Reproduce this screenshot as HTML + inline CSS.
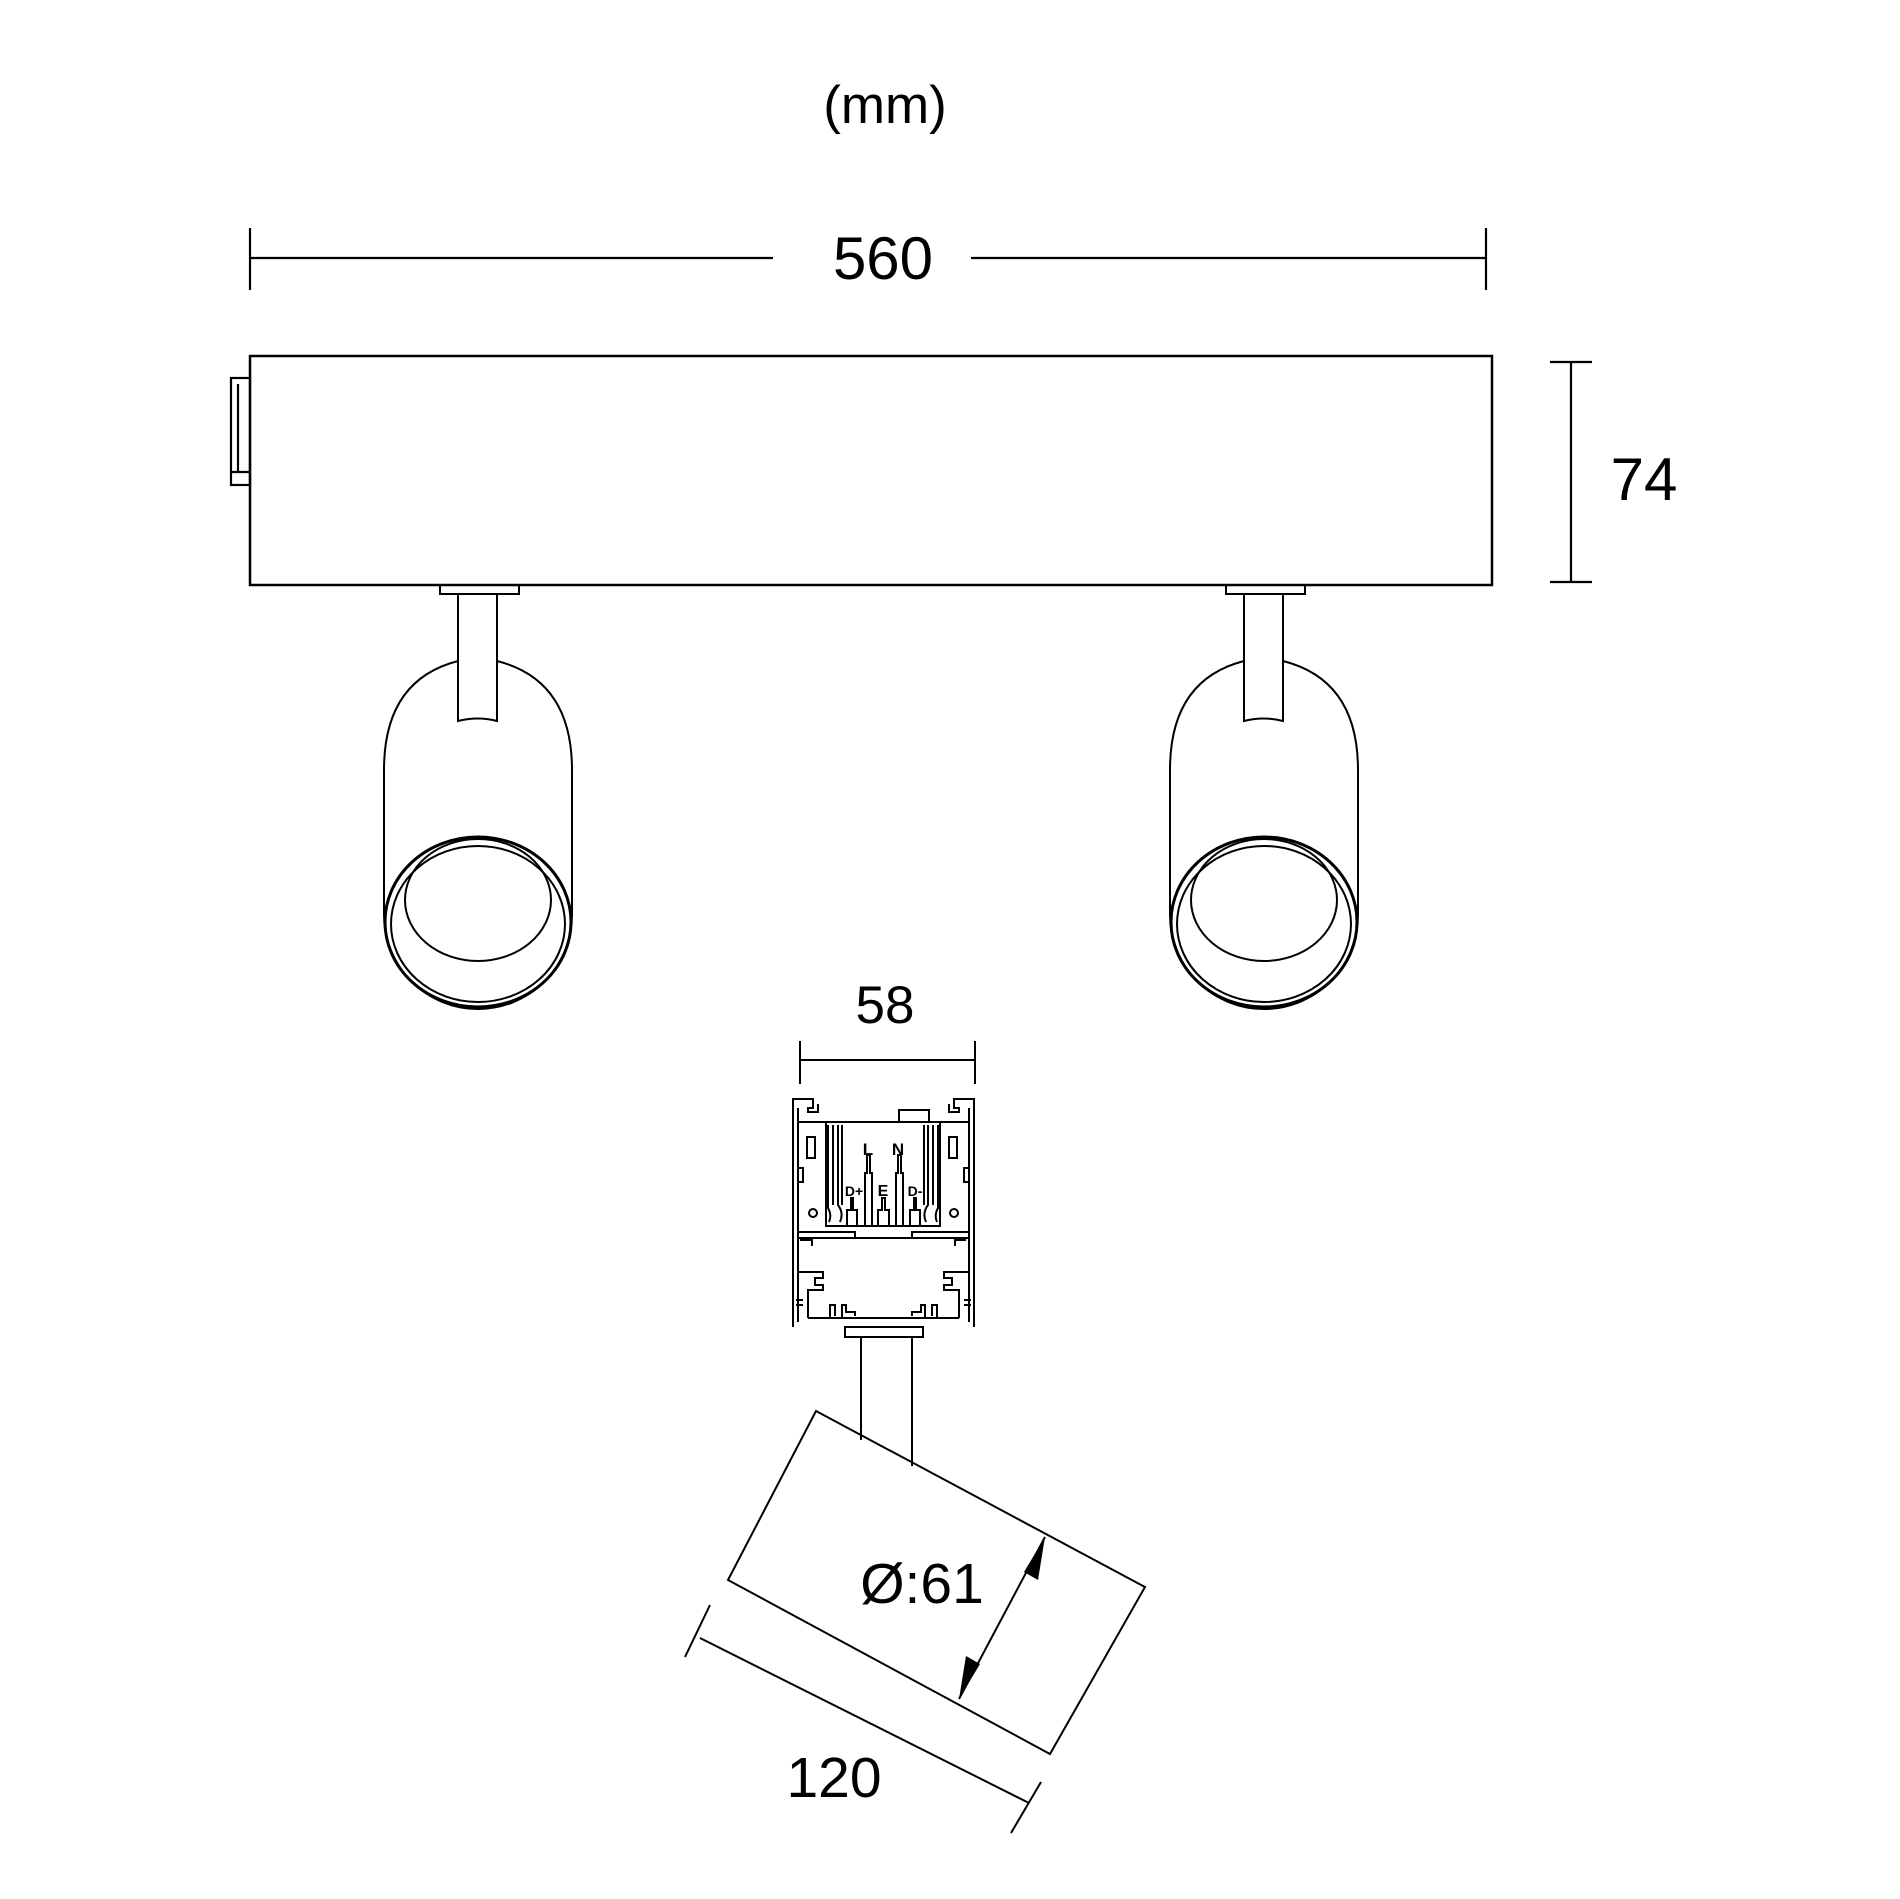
<!DOCTYPE html>
<html><head><meta charset="utf-8"><style>
html,body{margin:0;padding:0;background:#fff;}
svg{display:block;}
text{font-family:"Liberation Sans",sans-serif;fill:#000;}
</style></head><body>
<svg width="1900" height="1899" viewBox="0 0 1900 1899" xmlns="http://www.w3.org/2000/svg">
<g fill="none" stroke="#000" stroke-width="2.2">
<line x1="250" y1="258" x2="773" y2="258"/>
<line x1="971" y1="258" x2="1486" y2="258"/>
<line x1="250" y1="228" x2="250" y2="290"/>
<line x1="1486" y1="228" x2="1486" y2="290"/>
<rect x="250" y="356" width="1242" height="229" stroke-width="2.5"/>
<rect x="231" y="378" width="19" height="107"/>
<line x1="238" y1="384" x2="238" y2="472"/>
<line x1="231" y1="472" x2="250" y2="472"/>
<line x1="1571" y1="362" x2="1571" y2="582"/>
<line x1="1550" y1="362" x2="1592" y2="362"/>
<line x1="1550" y1="582" x2="1592" y2="582"/>
</g>
<g id="sp" fill="none" stroke="#000" stroke-width="2">
<rect x="440" y="585" width="79" height="9"/>
<path d="M458 594 V721 Q478 716 497 721 V594"/>
<path d="M458 661 Q384 680 384 770 V915 A94 94 0 0 0 572 915 V770 Q572 680 497 661"/>
<ellipse cx="478" cy="922" rx="93" ry="85" stroke-width="3"/>
<ellipse cx="478" cy="924" rx="87" ry="78"/>
<ellipse cx="478" cy="900" rx="73" ry="61"/>
</g>
<use href="#sp" transform="translate(786,0)"/>
<g fill="none" stroke="#000" stroke-width="2">
<line x1="800" y1="1060" x2="975" y2="1060"/>
<line x1="800" y1="1041" x2="800" y2="1084"/>
<line x1="975" y1="1041" x2="975" y2="1084"/>
<path d="M793 1327 V1099 H813 V1108 H808 V1112 H818 V1104"/>
<path d="M974 1327 V1099 H954 V1108 H959 V1112 H949 V1104"/>
<line x1="798" y1="1108" x2="798" y2="1322"/>
<line x1="969" y1="1108" x2="969" y2="1322"/>
<line x1="798" y1="1122" x2="969" y2="1122"/>
<rect x="899" y="1110" width="30" height="12"/>
<rect x="826" y="1122" width="114" height="104"/>
<rect x="807" y="1137" width="8" height="21"/>
<rect x="949" y="1137" width="8" height="21"/>
<rect x="798" y="1168" width="5" height="14"/>
<rect x="964" y="1168" width="5" height="14"/>
<circle cx="813" cy="1213" r="4"/>
<circle cx="954" cy="1213" r="4"/>
<path d="M828 1125 V1208 Q832 1215 829 1222 M833 1125 V1205 M838 1125 V1205 Q844 1213 840 1222 M842 1125 V1205"/>
<path d="M938 1125 V1208 Q934 1215 937 1222 M933 1125 V1205 M928 1125 V1205 Q922 1213 926 1222 M924 1125 V1205"/>
<path d="M865 1226 V1173 H867 V1155 H870 V1173 H872 V1226"/>
<path d="M896 1226 V1173 H898 V1155 H901 V1173 H903 V1226"/>
<path d="M847 1226 V1210 H851 V1198 H853 V1210 H857 V1226"/>
<path d="M878 1226 V1210 H882 V1198 H885 V1210 H889 V1226"/>
<path d="M910 1226 V1210 H914 V1198 H916 V1210 H920 V1226"/>
<path d="M798 1232 H855 V1238 H912 V1232 H969"/>
<line x1="798" y1="1238" x2="969" y2="1238"/>
<path d="M800 1240 H812 V1246 M966 1240 H955 V1246"/>
<path d="M798 1272 H823 V1278 H815 V1285 H823 V1290 H808 V1318"/>
<path d="M969 1272 H944 V1278 H952 V1285 H944 V1290 H959 V1318"/>
<path d="M808 1318 H959"/>
<path d="M830 1318 V1305 H835 V1316 M842 1318 V1305 H846 V1312 H855 V1316"/>
<path d="M937 1318 V1305 H932 V1316 M925 1318 V1305 H921 V1312 H912 V1316"/>
<path d="M796 1300 H803 M796 1305 H803 M964 1300 H971 M964 1305 H971"/>
<rect x="845" y="1327" width="78" height="10"/>
<path d="M861 1337 V1440 M912 1337 V1466"/>
<polygon points="816,1411 1145,1587 1050,1754 728,1580"/>
<line x1="1045" y1="1537" x2="959" y2="1699"/>
<line x1="700" y1="1638" x2="1029" y2="1803"/>
<line x1="685" y1="1657" x2="710" y2="1605"/>
<line x1="1011" y1="1833" x2="1041" y2="1782"/>
</g>
<polygon points="1045,1537 1038,1580 1024,1572" fill="#000"/>
<polygon points="959,1699 966,1656 980,1664" fill="#000"/>
<text x="885" y="123" font-size="53" text-anchor="middle">(mm)</text>
<text x="883" y="279" font-size="60" text-anchor="middle">560</text>
<text x="1644" y="500" font-size="60" text-anchor="middle">74</text>
<text x="885" y="1023" font-size="53" text-anchor="middle">58</text>
<text x="922" y="1603" font-size="57" text-anchor="middle">Ø:61</text>
<text x="834" y="1797" font-size="57" text-anchor="middle">120</text>
<g font-weight="bold" text-anchor="middle">
<text x="868" y="1155" font-size="17">L</text>
<text x="898" y="1155" font-size="17">N</text>
<text x="854" y="1196" font-size="14">D+</text>
<text x="883" y="1196" font-size="16">E</text>
<text x="915" y="1196" font-size="14">D-</text>
</g>
</svg>
</body></html>
